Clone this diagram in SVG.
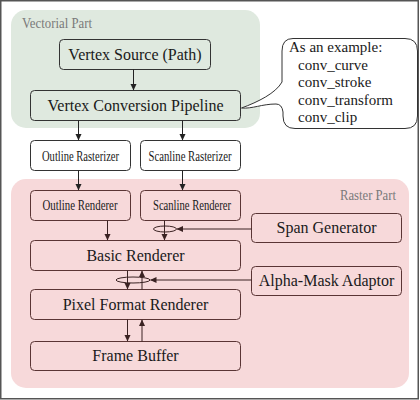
<svg xmlns="http://www.w3.org/2000/svg" width="420" height="400" viewBox="0 0 420 400">
<defs>
<marker id="ah" markerWidth="7" markerHeight="7" refX="6" refY="3.5" orient="auto" markerUnits="userSpaceOnUse">
<path d="M0,0.5 L6.5,3.5 L0,6.5 Z" fill="#222"/>
</marker>
<marker id="ahr" markerWidth="7" markerHeight="7" refX="6" refY="3.5" orient="auto" markerUnits="userSpaceOnUse">
<path d="M0,0.5 L6.5,3.5 L0,6.5 Z" fill="#3a2222"/>
</marker>
</defs>
<style>
text{fill:#1a1a1a}
.big{font-size:16px;text-anchor:middle}
.small{font-size:15px;text-anchor:middle}
.lab{font-size:15px;fill:#7a7a7a}
.gbox{fill:#dfe9df;stroke:#333;stroke-width:1}
.wbox{fill:#fff;stroke:#333;stroke-width:1}
.rbox{fill:#f7d9da;stroke:#5a3535;stroke-width:1}
.c{stroke:#222;stroke-width:1;fill:none;marker-end:url(#ah)}
.cr{stroke:#3a2222;stroke-width:1;fill:none;marker-end:url(#ahr)}
.el{stroke:#3a2222;stroke-width:1;fill:none}
.cl{font-size:15px}
</style>
<rect x="0.75" y="0.75" width="417.5" height="398" fill="#fff" stroke="#555" stroke-width="1.5"/>
<g font-family="'Liberation Serif', 'DejaVu Serif', serif">
<g id="vectorial-part">
<rect x="11" y="10" width="249" height="118" rx="15" fill="#dfe9df"/>
<text class="lab" x="22" y="28" textLength="70" lengthAdjust="spacingAndGlyphs">Vectorial Part</text>
</g>
<g id="raster-part">
<rect x="11" y="179" width="398" height="209" rx="15" fill="#f7d9da"/>
<text class="lab" x="396" y="200" text-anchor="end" textLength="56" lengthAdjust="spacingAndGlyphs">Raster Part</text>
</g>
<g id="vertex-source">
<rect class="gbox" x="59.5" y="39.5" width="151" height="30" rx="4"/>
<text class="big" x="135" y="60">Vertex Source (Path)</text>
</g>
<g id="vertex-conversion">
<rect class="gbox" x="30.5" y="90.5" width="210" height="30" rx="4"/>
<text class="big" x="135.5" y="111">Vertex Conversion Pipeline</text>
</g>
<g id="callout">
<path d="M293,38.5 H405 Q417.5,38.5 417.5,51 V116 Q417.5,128.5 405,128.5 H295 Q283,128.5 283,116 V112 Q282,104 276,104 C262,104 252,109 241.5,108 C258,102 276,93 282,82 V51 Q282,38.5 293,38.5 Z" fill="#fff" stroke="#333" stroke-width="1"/>
<text class="cl" x="289" y="52">As an example:</text>
<text class="cl" x="298" y="70">conv_curve</text>
<text class="cl" x="298" y="87">conv_stroke</text>
<text class="cl" x="298" y="105">conv_transform</text>
<text class="cl" x="298" y="122">conv_clip</text>
</g>
<g id="outline-rasterizer">
<rect class="wbox" x="30.5" y="140.5" width="100" height="30" rx="4"/>
<text class="small" x="80.5" y="161" textLength="77" lengthAdjust="spacingAndGlyphs">Outline Rasterizer</text>
</g>
<g id="scanline-rasterizer">
<rect class="wbox" x="140.5" y="140.5" width="100" height="30" rx="4"/>
<text class="small" x="190" y="161" textLength="83" lengthAdjust="spacingAndGlyphs">Scanline Rasterizer</text>
</g>
<g id="outline-renderer">
<rect class="rbox" x="30.5" y="190.5" width="100" height="30" rx="4"/>
<text class="small" x="80" y="210" textLength="75" lengthAdjust="spacingAndGlyphs">Outline Renderer</text>
</g>
<g id="scanline-renderer">
<rect class="rbox" x="140.5" y="190.5" width="100" height="30" rx="4"/>
<text class="small" x="192" y="210" textLength="78" lengthAdjust="spacingAndGlyphs">Scanline Renderer</text>
</g>
<g id="span-generator">
<rect class="rbox" x="251.5" y="213.5" width="150" height="29" rx="4"/>
<text class="big" x="326.5" y="233">Span Generator</text>
</g>
<g id="basic-renderer">
<rect class="rbox" x="30.5" y="240.5" width="210" height="30" rx="4"/>
<text class="big" x="135.5" y="261">Basic Renderer</text>
</g>
<g id="alpha-mask">
<rect class="rbox" x="251.5" y="266.5" width="150" height="29" rx="4"/>
<text class="big" x="326.5" y="286">Alpha-Mask Adaptor</text>
</g>
<g id="pixel-format">
<rect class="rbox" x="30.5" y="289.5" width="210" height="30" rx="4"/>
<text class="big" x="135.5" y="310">Pixel Format Renderer</text>
</g>
<g id="frame-buffer">
<rect class="rbox" x="30.5" y="341.5" width="210" height="29" rx="4"/>
<text class="big" x="135.5" y="361">Frame Buffer</text>
</g>
</g>
<g id="connectors">
<line class="c" x1="133.5" y1="69.5" x2="133.5" y2="90"/>
<line class="c" x1="78.5" y1="120.5" x2="78.5" y2="140"/>
<line class="c" x1="182.5" y1="120.5" x2="182.5" y2="140"/>
<line class="c" x1="78.5" y1="170.5" x2="78.5" y2="190"/>
<line class="c" x1="182.5" y1="170.5" x2="182.5" y2="190"/>
<line class="cr" x1="107.5" y1="220.5" x2="107.5" y2="240"/>
<line class="cr" x1="164.5" y1="220.5" x2="164.5" y2="240"/>
<ellipse class="el" cx="165" cy="229" rx="11.5" ry="3"/>
<line class="cr" x1="251.5" y1="229" x2="177" y2="229"/>
<line class="cr" x1="127.5" y1="270.5" x2="127.5" y2="289"/>
<line class="cr" x1="142" y1="289.5" x2="142" y2="271"/>
<ellipse class="el" cx="133" cy="280" rx="17" ry="3"/>
<line class="cr" x1="251.5" y1="280" x2="150.5" y2="280"/>
<line class="cr" x1="127.5" y1="319.5" x2="127.5" y2="341"/>
<line class="cr" x1="142" y1="341.5" x2="142" y2="320"/>
</g>
</svg>
